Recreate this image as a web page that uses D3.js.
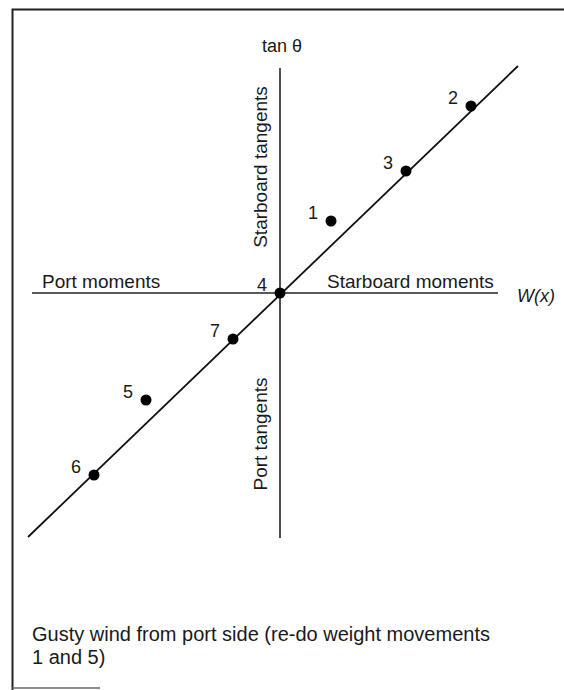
<!DOCTYPE html>
<html>
<head>
<meta charset="utf-8">
<title>Gusty wind from port side</title>
<script src="https://d3js.org/d3.v7.min.js"></script>
<style>
  body { margin: 0; background: #fff; }
  text { font-family: "Liberation Sans", Arial, sans-serif; fill: #1a1a1a; }
</style>
</head>
<body>
<svg width="564" height="690"></svg>
<script>
// weight movement readings: W(x) vs tan(theta), arbitrary units
var labels = ["1", "2", "3", "4", "5", "6", "7"];
var moments = [2.55, 9.55, 6.3, 0, -6.7, -9.3, -2.35];
var tangents = [3.6, 9.35, 6.1, 0, -5.35, -9.1, -2.3];
// fitted line end points
var fitX = [-12.6, 11.9];
var fitY = [-12.2, 11.35];
// axis extents
var axisX = [-12.4, 10.9];
var axisY = [-12.25, 11.25];
var caption = ["Gusty wind from port side (re-do weight movements", "1 and 5)"];

var svg = d3.select("svg");

var x = d3.scaleLinear().domain([-10, 10]).range([80, 480]);
var y = d3.scaleLinear().domain([-10, 10]).range([493, 93]);

// frame
svg.append("path")
    .attr("d", "M564,9.5H12.5V690")
    .attr("fill", "none")
    .attr("stroke", "#222")
    .attr("stroke-width", 2);
svg.append("line")
    .attr("x1", 12).attr("x2", 100)
    .attr("y1", 688).attr("y2", 688)
    .attr("stroke", "#666")
    .attr("stroke-width", 1.5);

// axes
svg.append("line")
    .attr("x1", x(axisX[0])).attr("x2", x(axisX[1]))
    .attr("y1", y(0)).attr("y2", y(0))
    .attr("stroke", "#222").attr("stroke-width", 1.6);
svg.append("line")
    .attr("x1", x(0)).attr("x2", x(0))
    .attr("y1", y(axisY[0])).attr("y2", y(axisY[1]))
    .attr("stroke", "#222").attr("stroke-width", 1.6);

// fitted line
svg.append("line")
    .attr("x1", x(fitX[0])).attr("y1", y(fitY[0]))
    .attr("x2", x(fitX[1])).attr("y2", y(fitY[1]))
    .attr("stroke", "#111").attr("stroke-width", 1.8);

// points
var pts = labels.map(function(d, i) {
  return { label: d, w: moments[i], t: tangents[i] };
});

svg.append("g").selectAll("circle")
  .data(pts)
  .enter().append("circle")
    .attr("cx", function(d) { return x(d.w); })
    .attr("cy", function(d) { return y(d.t); })
    .attr("r", 5.5)
    .attr("fill", "#000");

svg.append("g").selectAll("text")
  .data(pts)
  .enter().append("text")
    .attr("x", function(d) { return x(d.w) - 13; })
    .attr("y", function(d) { return y(d.t) - 2; })
    .attr("text-anchor", "end")
    .attr("font-size", 18)
    .text(function(d) { return d.label; });

// axis labels
svg.append("text")
    .attr("x", x(0) + 2).attr("y", 52)
    .attr("text-anchor", "middle")
    .attr("font-size", 18)
    .text("tan  \u03b8");

svg.append("text")
    .attr("transform", "translate(" + (x(0) - 13) + "," + y(6.3) + ") rotate(-90)")
    .attr("text-anchor", "middle")
    .attr("font-size", 19)
    .text("Starboard tangents");

svg.append("text")
    .attr("transform", "translate(" + (x(0) - 13) + "," + y(-7.05) + ") rotate(-90)")
    .attr("text-anchor", "middle")
    .attr("font-size", 19)
    .text("Port tangents");

svg.append("text")
    .attr("x", 42).attr("y", y(0) - 5)
    .attr("font-size", 19)
    .text("Port moments");

svg.append("text")
    .attr("x", 327).attr("y", y(0) - 5)
    .attr("font-size", 19)
    .text("Starboard moments");

svg.append("text")
    .attr("x", 517).attr("y", y(0) + 9)
    .attr("font-size", 18)
    .attr("font-style", "italic")
    .text("W(x)");

// caption
svg.append("g").selectAll("text")
  .data(caption)
  .enter().append("text")
    .attr("x", 32)
    .attr("y", function(d, i) { return 641 + i * 23; })
    .attr("font-size", 20)
    .text(function(d) { return d; });
</script>
</body>
</html>
